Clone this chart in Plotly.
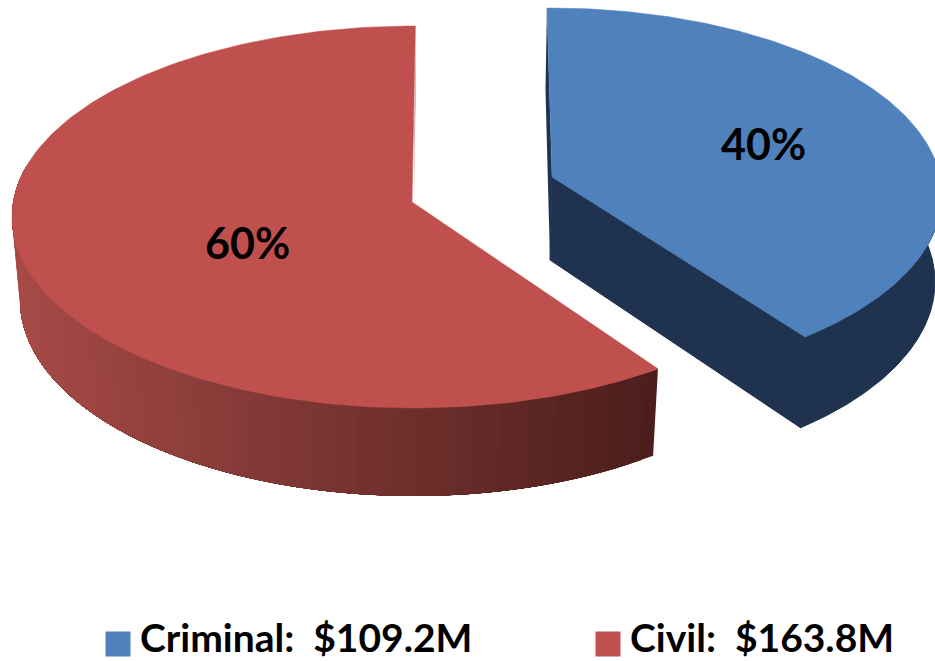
import numpy as np
import plotly.graph_objects as go

categories = ["Criminal", "Civil"]
amounts = [109.2, 163.8]
shares = ["40%", "60%"]
top_colors = ["#4F81BD", "#C0504D"]

FONT = "Lato, Carlito, Calibri, sans-serif"
ROTATION = -1.0

total = sum(amounts)
sweeps = [a / total * 360 for a in amounts]
start = {"Criminal": ROTATION, "Civil": ROTATION + sweeps[0]}
stop = {"Criminal": ROTATION + sweeps[0], "Civil": ROTATION + 360}

geom = {
    "Criminal": dict(cx=550.0, cy=195.0, cy2=282.0, rx=392.0, ry=187.0, rx2=385.0, ry2=192.0,
                     warp=6.0, ax=552.0, ay=177.0, bx=550.0, by=260.0),
    "Civil": dict(cx=414.0, cy=217.0, cy2=300.0, rx=402.0, ry=191.0, rx2=394.0, ry2=196.0,
                  warp=0.6, ax=412.0, ay=202.0, bx=414.0, by=285.0),
}


def top(g, t):
    r = np.radians(t)
    r = r - np.radians(g["warp"]) * np.sin(r)
    return g["cx"] + g["rx"] * np.sin(r), g["cy"] - g["ry"] * np.cos(r)


def bottom(g, t):
    r = np.radians(t)
    r = r - np.radians(g["warp"]) * np.sin(r)
    return g["cx"] + g["rx2"] * np.sin(r), g["cy2"] - g["ry2"] * np.cos(r)


def poly(fig, xs, ys, color, lw=0):
    fig.add_trace(go.Scatter(x=list(xs), y=list(ys), mode="lines", fill="toself",
                             fillcolor=color, line=dict(color=color, width=lw),
                             hoverinfo="skip", showlegend=False))


def lerp(c1, c2, f):
    a = [int(c1[i:i + 2], 16) for i in (1, 3, 5)]
    b = [int(c2[i:i + 2], 16) for i in (1, 3, 5)]
    return "rgb(%d,%d,%d)" % tuple(round(p + (q - p) * f) for p, q in zip(a, b))


fig = go.Figure()

# Civil slice: outer wall painted in overlapping bands, then inner wall, then top
g = geom["Civil"]
WALL_END = 285
ts = np.linspace(start["Civil"], WALL_END, 70)
for t0 in ts[:-1]:
    tt = np.linspace(t0, WALL_END, 60)
    xa, ya = top(g, tt)
    xb, yb = bottom(g, tt)
    left_edge = (xa[0] + xb[0]) / 2
    f = float(np.clip((left_edge - 20) / 635, 0, 1))
    poly(fig, np.r_[xa, xb[::-1]], np.r_[ya, yb[::-1]], lerp("#A64A47", "#4C1E1B", f))
xe, ye = top(g, stop["Civil"] + 1.2)
xf, yf = bottom(g, stop["Civil"] + 1.2)
poly(fig, [xe, xf, g["ax"] + 2, xe], [ye, yf, g["ay"], ye], "#9C4542")
tt = np.linspace(start["Civil"], stop["Civil"] + 1.2, 200)
xa, ya = top(g, tt)
poly(fig, np.r_[g["ax"], xa, g["ax"]], np.r_[g["ay"], ya, g["ay"]], top_colors[1], 0.5)

# Criminal slice: dark walls, then top
g = geom["Criminal"]
t_s, t_e = start["Criminal"] + 0.5, stop["Criminal"]
tt = np.linspace(85, t_e, 120)
xa, ya = top(g, tt)
xb, yb = bottom(g, tt)
poly(fig, np.r_[xb, xa[::-1]], np.r_[yb, ya[::-1]], "#1F3350", 1)
xs0, ys0 = top(g, t_s)
xs1, ys1 = bottom(g, t_s)
poly(fig, [xs0, xs1 - 1.5, g["bx"], g["ax"], xs0], [ys0, ys1, g["by"], g["ay"], ys0], "#1F3350")
xe0, ye0 = top(g, t_e)
xe1, ye1 = bottom(g, t_e)
poly(fig, [g["ax"], xe0, xe1, g["bx"], g["ax"]], [g["ay"], ye0, ye1, g["by"], g["ay"]], "#1F3350", 1)
tt = np.linspace(t_s, t_e, 200)
xa, ya = top(g, tt)
poly(fig, np.r_[g["ax"], xa, g["ax"]], np.r_[g["ay"], ya, g["ay"]], top_colors[0], 0.5)

# Percentage labels
for txt, x, y in zip(shares, [763, 247], [143, 242]):
    fig.add_annotation(x=x, y=y, text=f"<b>{txt}</b>", showarrow=False,
                       font=dict(family=FONT, size=43, color="#000000"))

# Legend row
for cat, amt, col, x in zip(categories, amounts, top_colors, [118, 608]):
    fig.add_trace(go.Scatter(x=[x], y=[644], mode="markers",
                             marker=dict(symbol="square", size=25, color=col),
                             hoverinfo="skip", showlegend=False))
    fig.add_annotation(x=x + 20, y=637, xanchor="left", showarrow=False,
                       text=f"<b>{cat}:\u00a0\u00a0${amt}M</b>",
                       font=dict(family=FONT, size=39, color="#000000"))

fig.update_layout(
    width=935, height=661, margin=dict(l=0, r=0, t=0, b=0),
    paper_bgcolor="#FFFFFF", plot_bgcolor="#FFFFFF", showlegend=False,
    xaxis=dict(range=[0, 935], visible=False, fixedrange=True),
    yaxis=dict(range=[661, 0], visible=False, fixedrange=True),
)
fig.write_html("out.html", config={"displayModeBar": False},
               post_script="document.body.style.margin='0';")
